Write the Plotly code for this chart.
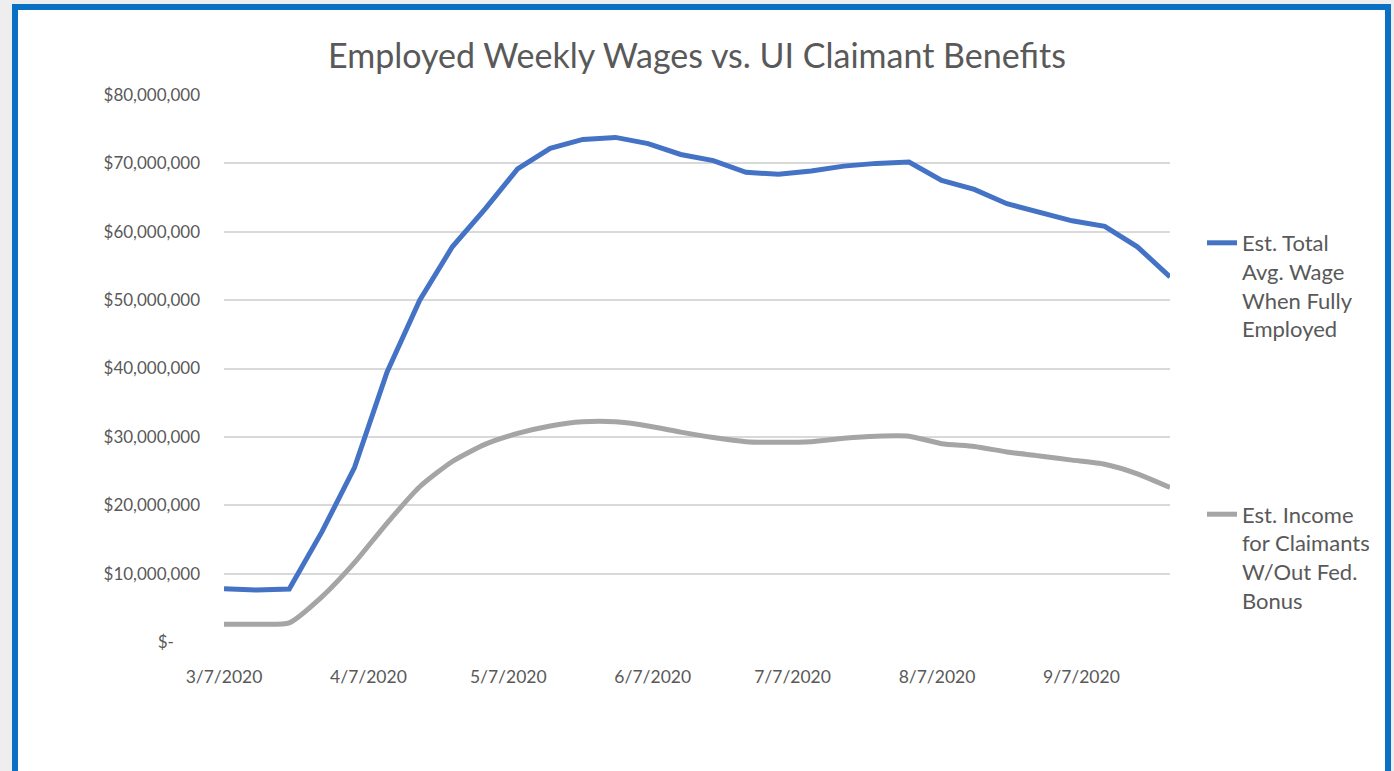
import plotly.graph_objects as go

# ---- data ----
week_dates = [
    "2020-03-07", "2020-03-14", "2020-03-21", "2020-03-28", "2020-04-04",
    "2020-04-11", "2020-04-18", "2020-04-25", "2020-05-02", "2020-05-09",
    "2020-05-16", "2020-05-23", "2020-05-30", "2020-06-06", "2020-06-13",
    "2020-06-20", "2020-06-27", "2020-07-04", "2020-07-11", "2020-07-18",
    "2020-07-25", "2020-08-01", "2020-08-08", "2020-08-15", "2020-08-22",
    "2020-08-29", "2020-09-05", "2020-09-12", "2020-09-19", "2020-09-26",
]
wages_full_employed = [
    7.8e6, 7.6e6, 7.75e6, 16.1e6, 25.5e6,
    39.5e6, 50.0e6, 57.8e6, 63.3e6, 69.2e6,
    72.2e6, 73.5e6, 73.8e6, 72.9e6, 71.3e6,
    70.4e6, 68.7e6, 68.4e6, 68.9e6, 69.6e6,
    70.0e6, 70.2e6, 67.5e6, 66.2e6, 64.1e6,
    62.8e6, 61.6e6, 60.8e6, 57.8e6, 53.4e6,
]
claimant_income = [
    2.6e6, 2.6e6, 2.8e6, 6.6e6, 11.6e6,
    17.4e6, 22.7e6, 26.4e6, 28.9e6, 30.5e6,
    31.6e6, 32.2e6, 32.2e6, 31.6e6, 30.7e6,
    29.9e6, 29.3e6, 29.2e6, 29.3e6, 29.8e6,
    30.1e6, 30.1e6, 29.0e6, 28.6e6, 27.8e6,
    27.2e6, 26.6e6, 26.0e6, 24.6e6, 22.6e6,
]
series_names = [
    "Est. Total<br>Avg. Wage<br>When Fully<br>Employed",
    "Est. Income<br>for Claimants<br>W/Out Fed.<br>Bonus",
]
x_tick_vals = ["2020-03-07", "2020-04-07", "2020-05-07", "2020-06-07",
               "2020-07-07", "2020-08-07", "2020-09-07"]
x_tick_text = ["3/7/2020", "4/7/2020", "5/7/2020", "6/7/2020",
               "7/7/2020", "8/7/2020", "9/7/2020"]
y_tick_vals = [0, 10e6, 20e6, 30e6, 40e6, 50e6, 60e6, 70e6, 80e6]
y_tick_text = ["$-" + "\u00a0" * 6, "$10,000,000", "$20,000,000", "$30,000,000",
               "$40,000,000", "$50,000,000", "$60,000,000", "$70,000,000",
               "$80,000,000"]
title_text = "Employed Weekly Wages vs. UI Claimant Benefits"

# ---- figure ----
W, H = 1394, 771
L, R, T, B = 224, 224, 95, 129
pw, ph = W - L - R, H - T - B

def px_x(p):
    return (p - L) / pw

def px_y(p):
    return (H - B - p) / ph

text_color = "#595959"
font_family = "Lato, 'Open Sans', sans-serif"

fig = go.Figure()
fig.add_trace(go.Scatter(
    x=week_dates, y=wages_full_employed, mode="lines",
    name=series_names[0], legendgroup="a",
    line=dict(color="#4472C4", width=5),
))
fig.add_trace(go.Scatter(
    x=week_dates, y=claimant_income, mode="lines",
    name=series_names[1], legendgroup="b",
    line=dict(color="#A5A5A5", width=5, shape="spline", smoothing=0.6),
))

fig.update_layout(
    width=W, height=H,
    margin=dict(l=L, r=R, t=T, b=B, autoexpand=False),
    paper_bgcolor="#eeeeee",
    plot_bgcolor="rgba(0,0,0,0)",
    font=dict(family=font_family, color=text_color),
    title=dict(text=title_text, x=0.5, xanchor="center",
               y=1 - 56 / H, yanchor="middle",
               font=dict(size=34, color=text_color, family=font_family)),
    showlegend=True,
    legend=dict(
        x=px_x(1202), xanchor="left", y=px_y(222), yanchor="top",
        bgcolor="rgba(0,0,0,0)", font=dict(size=22, color=text_color),
        valign="top", tracegroupgap=154, traceorder="grouped",
    ),
    shapes=[dict(
        type="rect", xref="paper", yref="paper", layer="below",
        x0=px_x(15), x1=px_x(1388), y0=px_y(830), y1=px_y(7),
        line=dict(color="#0a70c4", width=6), fillcolor="white",
    )],
)
fig.update_xaxes(
    type="date", range=["2020-03-07", "2020-09-26"],
    tickvals=x_tick_vals, ticktext=x_tick_text,
    showgrid=False, zeroline=False, showline=False, ticks="",
    tickfont=dict(size=17.5, color=text_color), ticklabelstandoff=22,
)
fig.update_yaxes(
    range=[0, 80e6], tickvals=y_tick_vals, ticktext=y_tick_text,
    showgrid=True, gridcolor="#d9d9d9", gridwidth=2,
    zeroline=False, showline=False, ticks="",
    tickfont=dict(size=17, color=text_color), ticklabelstandoff=23,
)

fig.write_html("out.html", config={"displayModeBar": False},
               post_script="document.body.style.margin='0';")
